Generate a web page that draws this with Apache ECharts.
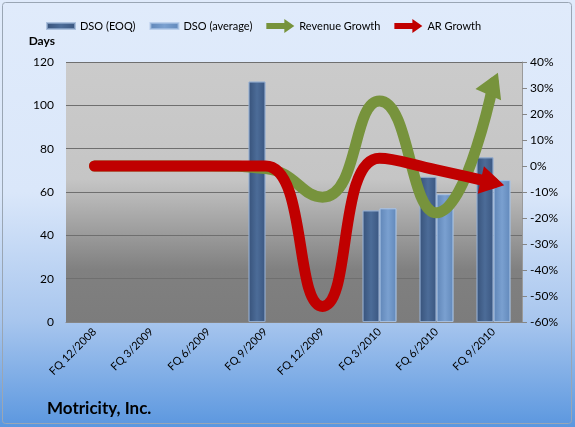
<!DOCTYPE html>
<html>
<head>
<meta charset="utf-8">
<script src="https://cdn.jsdelivr.net/npm/echarts@6/dist/echarts.min.js"></script>
<style>
  html, body { margin: 0; padding: 0; background: #fff; }
  #chart { width: 575px; height: 427px; }
</style>
</head>
<body>
<div id="chart"></div>
<script>
// quarters on the x axis
const categories = ["FQ 12/2008", "FQ 3/2009", "FQ 6/2009", "FQ 9/2009", "FQ 12/2009", "FQ 3/2010", "FQ 6/2010", "FQ 9/2010"];
// days (left axis)
const dsoEoq = [null, null, null, 111, null, 51.5, 67, 76];
const dsoAvg = [null, null, null, null, null, 52.5, 59, 65.5];
// growth in % (right axis)
const revenueGrowth = [0, 0, 0, -1, -12, 25, -18, 32];
const arGrowth = [0, 0, 0, 0, -54, 3, -1.5, -6.5];

const FONT = "Lato";
const GREEN = "#77933c";
const RED = "#c00000";

// arrow head, data point sits 11px behind the tip
const arrowHead = "path://M0,-11 L14,13 L-14,13 Z M0,-13 L0,-13 Z";

function barColor(c0, c1, c2) {
  return new echarts.graphic.LinearGradient(0, 0, 1, 0, [
    { offset: 0, color: c0 },
    { offset: 0.5, color: c1 },
    { offset: 1, color: c2 },
  ]);
}

function withArrow(values, color) {
  return values.map((v, i) => {
    if (i < values.length - 1) return v;
    return {
      value: v,
      symbol: arrowHead,
      symbolSize: [28, 26],
      itemStyle: { color: color, borderWidth: 0 },
    };
  });
}

let chart = echarts.init(document.getElementById("chart"));

const option = {
  animation: false,
  backgroundColor: new echarts.graphic.LinearGradient(0, 0, 0, 1, [
    { offset: 0, color: "#e0ebfb" },
    { offset: 0.45, color: "#dae7fa" },
    { offset: 0.75, color: "#a8c6ee" },
    { offset: 1, color: "#5b97df" },
  ]),
  textStyle: { fontFamily: FONT },
  title: {
    text: "Motricity, Inc.",
    left: 47,
    top: 400,
    padding: 0,
    textStyle: { fontFamily: FONT, fontSize: 17, fontWeight: "bold", color: "#000" },
  },
  legend: {
    left: 41,
    top: 14,
    itemWidth: 28,
    itemHeight: 14,
    itemGap: 14,
    textStyle: { fontFamily: FONT, fontSize: 11, color: "#000" },
    data: [
      { name: "DSO (EOQ)", icon: "path://M0,0 H28 V6 H0 Z" },
      { name: "DSO (average)", icon: "path://M0,0 H28 V6 H0 Z" },
      { name: "Revenue Growth", icon: "path://M0,4 H18 V0 L28,7 L18,14 V10 H0 Z" },
      { name: "AR Growth", icon: "path://M0,4 H18 V0 L28,7 L18,14 V10 H0 Z" },
    ],
  },
  grid: {
    left: 66,
    right: 53,
    top: 62,
    bottom: 105,
    show: true,
    borderWidth: 0,
    backgroundColor: new echarts.graphic.LinearGradient(0, 0, 0, 1, [
      { offset: 0, color: "#cbcbcb" },
      { offset: 0.45, color: "#c5c5c5" },
      { offset: 0.8, color: "#808080" },
      { offset: 1, color: "#7c7c7c" },
    ]),
  },
  xAxis: {
    type: "category",
    data: categories,
    axisLine: { lineStyle: { color: "#868686" } },
    axisTick: { length: 5, lineStyle: { color: "#868686" } },
    axisLabel: { rotate: 45, fontFamily: FONT, fontSize: 11, color: "#000", margin: 8 },
  },
  yAxis: [
    {
      type: "value",
      min: 0,
      max: 120,
      interval: 20,
      name: "Days",
      nameGap: 15,
      nameTextStyle: { fontFamily: FONT, fontSize: 12, fontWeight: "bold", color: "#000", align: "right", padding: [0, 11, 0, 0] },
      axisLine: { show: false },
      axisTick: { show: false },
      axisLabel: { fontFamily: FONT, fontSize: 12, color: "#000", margin: 12 },
      splitLine: { lineStyle: { color: "#6f6f6f" } },
    },
    {
      type: "value",
      min: -60,
      max: 40,
      interval: 10,
      axisLine: { show: true, lineStyle: { color: "#9a9a9a" } },
      axisTick: { show: true, length: 5, lineStyle: { color: "#868686" } },
      axisLabel: { formatter: "{value}%", fontFamily: FONT, fontSize: 12, color: "#000", margin: 8 },
      splitLine: { show: false },
    },
  ],
  series: [
    {
      name: "DSO (EOQ)",
      type: "bar",
      yAxisIndex: 0,
      barWidth: 17,
      barGap: "0%",
      data: dsoEoq,
      itemStyle: {
        color: barColor("#37527a", "#4c6c98", "#3a5680"),
        borderColor: "rgba(150,175,210,0.7)",
        borderWidth: 1,
      },
    },
    {
      name: "DSO (average)",
      type: "bar",
      yAxisIndex: 0,
      barWidth: 17,
      barGap: "0%",
      data: dsoAvg,
      itemStyle: {
        color: barColor("#5f85b7", "#7aa0d0", "#6188ba"),
        borderColor: "rgba(170,195,230,0.7)",
        borderWidth: 1,
      },
    },
    {
      name: "Revenue Growth",
      type: "line",
      yAxisIndex: 1,
      smooth: 0.5,
      symbol: "none",
      data: withArrow(revenueGrowth, GREEN),
      itemStyle: { color: GREEN },
      lineStyle: { color: GREEN, width: 11, cap: "round" },
      z: 3,
    },
    {
      name: "AR Growth",
      type: "line",
      yAxisIndex: 1,
      smooth: 0.5,
      symbol: "none",
      data: withArrow(arGrowth, RED),
      itemStyle: { color: RED },
      lineStyle: { color: RED, width: 11, cap: "round" },
      z: 4,
    },
  ],
  graphic: [
    {
      type: "rect",
      silent: true,
      shape: { x: 2.5, y: 2.5, width: 569, height: 421, r: 3 },
      style: { fill: "none", stroke: "#9aa6b4", lineWidth: 1 },
    },
  ],
};

chart.setOption(option);

// turn each arrow head along the last stretch of its line
function arrowRotate(seriesIndex, values) {
  const n = values.length;
  const a = chart.convertToPixel({ seriesIndex: seriesIndex }, [n - 2, values[n - 2]]);
  const b = chart.convertToPixel({ seriesIndex: seriesIndex }, [n - 1, values[n - 1]]);
  const angle = Math.atan2(a[1] - b[1], b[0] - a[0]) * 180 / Math.PI;
  return angle - 90;
}

let revData = withArrow(revenueGrowth, GREEN);
revData[revData.length - 1].symbolRotate = arrowRotate(2, revenueGrowth);
let arData = withArrow(arGrowth, RED);
arData[arData.length - 1].symbolRotate = arrowRotate(3, arGrowth);

chart.setOption({
  series: [{}, {}, { data: revData }, { data: arData }],
});
</script>
</body>
</html>
